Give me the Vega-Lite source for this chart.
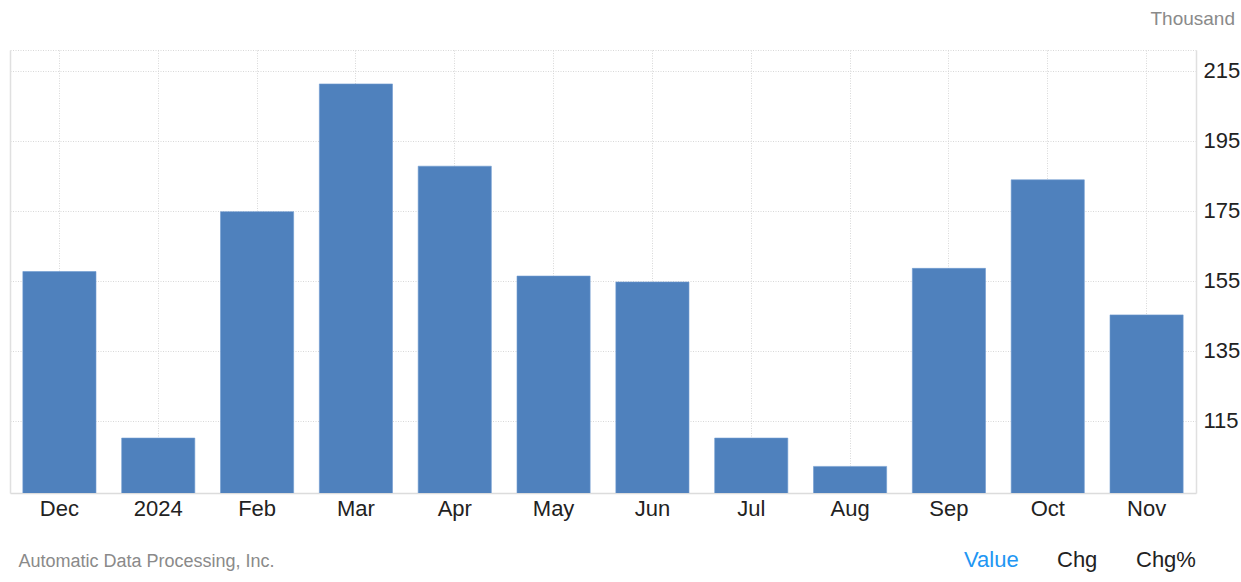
{
  "$schema": "https://vega.github.io/schema/vega-lite/v6.json",
  "autosize": {"type": "none"},
  "width": 1186,
  "height": 443,
  "padding": {"left": 10, "top": 50, "right": 45, "bottom": 89},
  "background": "white",
  "config": {
    "font": "Liberation Sans",
    "view": {"stroke": null},
    "title": {"font": "Liberation Sans"}
  },
  "title": {
    "text": "Thousand",
    "anchor": "end",
    "frame": "group",
    "orient": "top",
    "fontSize": 19,
    "fontWeight": "normal",
    "color": "#8a8a8a",
    "dx": 39,
    "offset": 21
  },
  "data": {
    "values": [
      {"month": "Dec", "value": 157.7},
      {"month": "2024", "value": 110.1},
      {"month": "Feb", "value": 174.8},
      {"month": "Mar", "value": 211.3},
      {"month": "Apr", "value": 187.8},
      {"month": "May", "value": 156.4},
      {"month": "Jun", "value": 154.7},
      {"month": "Jul", "value": 110.1},
      {"month": "Aug", "value": 102.0},
      {"month": "Sep", "value": 158.6},
      {"month": "Oct", "value": 183.9},
      {"month": "Nov", "value": 145.3}
    ]
  },
  "layer": [
    {
      "mark": {"type": "bar", "stroke": "#6f9bd0", "strokeWidth": 0.6, "clip": true},
      "encoding": {
        "x": {
          "field": "month",
          "type": "nominal",
          "sort": null,
          "scale": {"paddingInner": 0.26, "paddingOuter": 0.13},
          "axis": {
            "orient": "bottom",
            "title": "Automatic Data Processing, Inc.",
            "titleFont": "Liberation Sans",
            "titleFontSize": 18,
            "titleFontWeight": "normal",
            "titleColor": "#8a8a8a",
            "titleAnchor": "start",
            "titleAlign": "left",
            "titleBaseline": "middle",
            "titleX": 8,
            "titleY": 68,
            "labelAngle": 0,
            "labelFontSize": 22,
            "labelColor": "#222222",
            "labelPadding": 5,
            "labelBaseline": "top",
            "ticks": false,
            "domain": true,
            "domainColor": "#dcdcdc",
            "domainWidth": 1.5,
            "grid": true,
            "gridColor": "#d8d8d8",
            "gridDash": [1, 1.5],
            "gridWidth": 1,
            "bandPosition": 0.5
          }
        },
        "y": {
          "field": "value",
          "type": "quantitative",
          "scale": {"domain": [94.4, 221], "nice": false, "zero": false},
          "axis": {
            "orient": "right",
            "title": null,
            "values": [115, 135, 155, 175, 195, 215],
            "labelFontSize": 22,
            "labelColor": "#222222",
            "labelPadding": 7,
            "labelAlign": "left",
            "labelBaseline": "middle",
            "ticks": false,
            "domain": true,
            "domainColor": "#e0e0e0",
            "domainWidth": 1.5,
            "grid": true,
            "gridColor": "#d8d8d8",
            "gridDash": [1, 1.5],
            "gridWidth": 1
          }
        },
        "color": {
          "datum": "Value",
          "type": "nominal",
          "scale": {"domain": ["Value", "Chg", "Chg%"], "range": ["#4f81bd", "#4f81bd", "#4f81bd"]},
          "legend": {
            "orient": "none",
            "legendX": 932,
            "legendY": 499,
            "direction": "horizontal",
            "title": null,
            "symbolSize": 0,
            "symbolOpacity": 0,
            "symbolStrokeWidth": 0,
            "labelOffset": 0,
            "labelFontSize": 22,
            "labelFont": "Liberation Sans",
            "columnPadding": 16,
            "labelColor": {"expr": "datum.value === 'Value' ? '#2196f3' : '#222222'"}
          }
        }
      }
    },
    {
      "mark": {"type": "point", "opacity": 0},
      "encoding": {
        "x": {
          "field": "month",
          "type": "nominal",
          "sort": null,
          "axis": {
            "orient": "top",
            "title": null,
            "labels": false,
            "ticks": false,
            "grid": false,
            "domain": true,
            "domainColor": "#d8d8d8",
            "domainDash": [1, 1.5],
            "domainWidth": 1
          }
        },
        "y": {
          "field": "value",
          "type": "quantitative",
          "axis": {
            "orient": "left",
            "title": null,
            "labels": false,
            "ticks": false,
            "grid": false,
            "domain": true,
            "domainColor": "#e0e0e0",
            "domainWidth": 1.5
          }
        }
      }
    }
  ],
  "resolve": {"axis": {"x": "independent", "y": "independent"}}
}
